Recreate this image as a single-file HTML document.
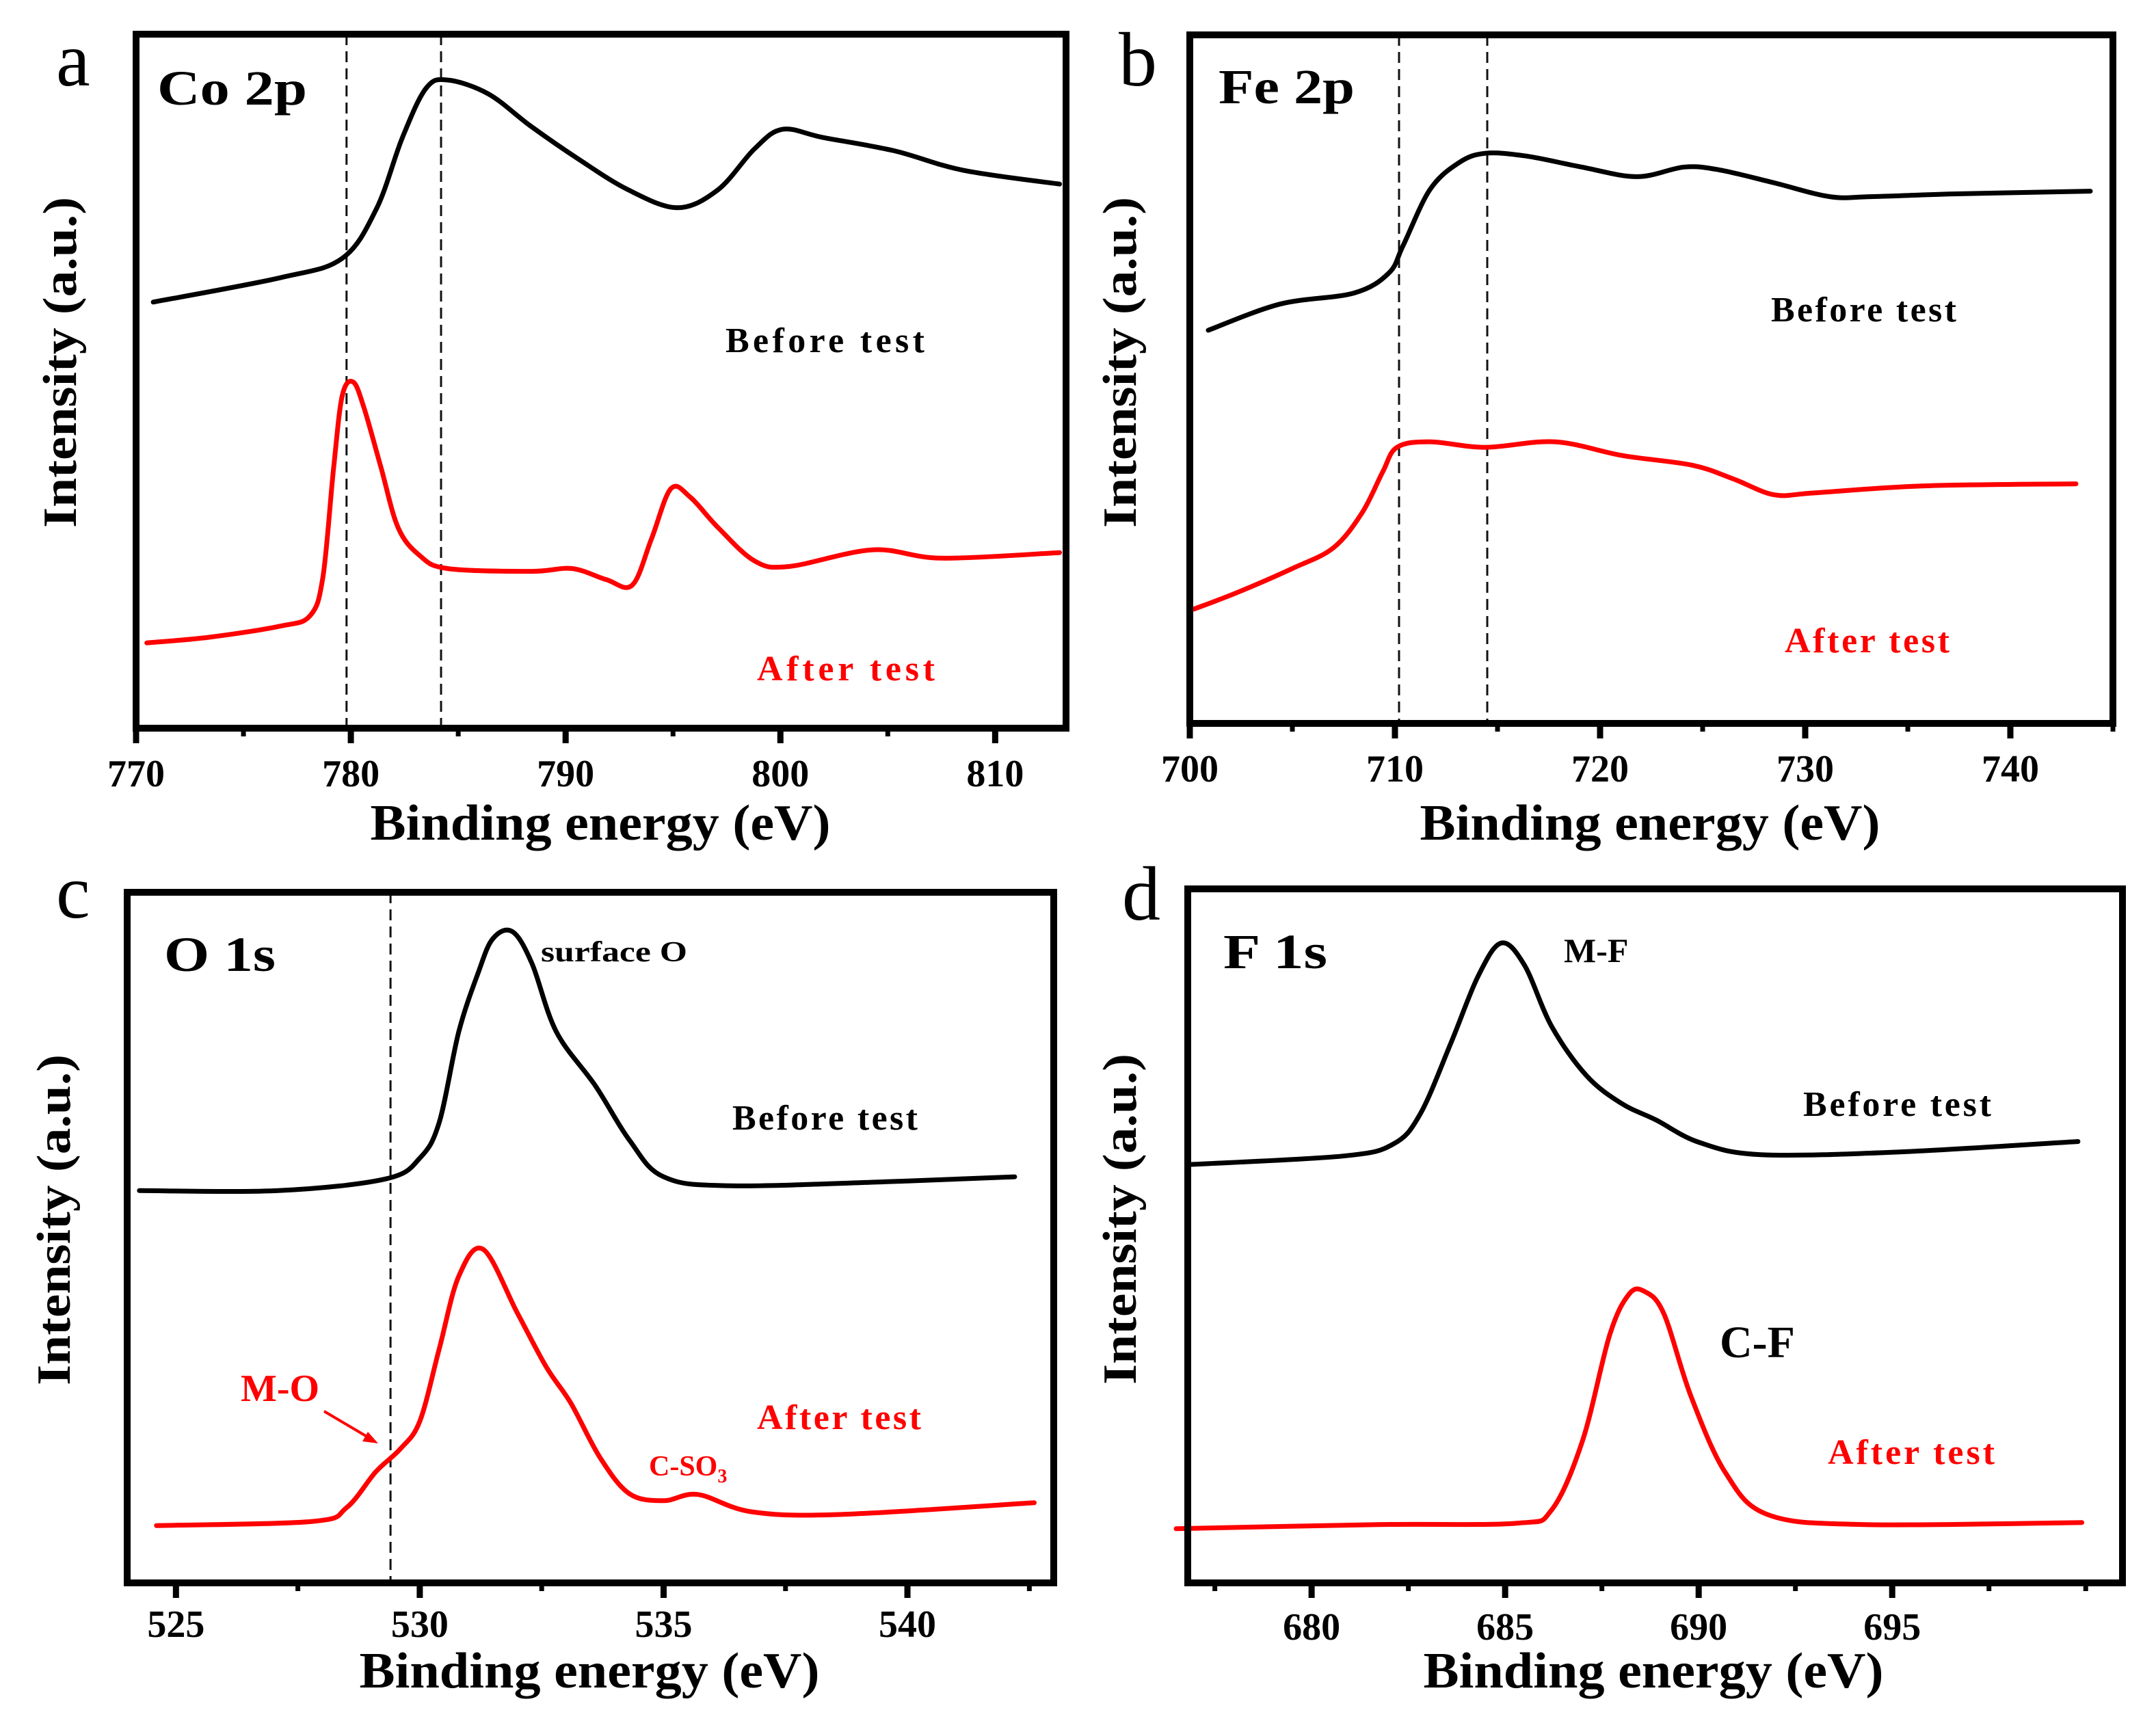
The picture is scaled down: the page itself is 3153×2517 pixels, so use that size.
<!DOCTYPE html>
<html><head><meta charset="utf-8"><title>XPS spectra</title>
<style>
html,body{margin:0;padding:0;background:#fff;}
svg{display:block;font-family:"Liberation Serif",serif;}
</style></head>
<body>
<svg id="fig" xmlns="http://www.w3.org/2000/svg" width="3153" height="2517" viewBox="0 0 3153 2517"></svg>
<script>
// ---- Panel a: Co 2p ----
const aBeforeE = [770.8,776.7,779.6,781.2,782.4,783.5,784.5,786.4,788.4,790.6,792.9,795.2,797.1,798.8,800.1,802.0,805.3,808.5,813.0];
const aBeforeV = [61.4,64.9,67.7,74.9,85.1,92.2,93.4,91.4,86.7,82.0,77.6,75.0,77.6,83.5,86.3,85.1,83.2,80.4,78.4];
const aAfterE = [770.5,773.4,776.7,778.1,778.7,779.2,779.6,780.1,780.6,781.4,782.2,783.2,784.5,788.4,790.3,791.9,793.1,794.0,794.9,795.8,797.1,798.8,800.4,804.3,807.5,813.0];
const aAfterV = [12.3,13.1,14.7,16.2,21.8,37.6,47.9,49.9,46.3,37.6,28.9,24.9,23.0,22.6,23.0,21.4,20.6,27.3,34.5,33.3,28.9,24.1,23.3,25.7,24.5,25.3];
const aMarks = [779.8,784.2];
const aTicks = [770,780,790,800,810];
// ---- Panel b: Fe 2p ----
const bBeforeE = [700.9,704.4,708.0,709.7,710.4,711.7,713.1,714.4,716.4,719.1,721.8,724.1,725.8,728.5,731.2,733.2,737.2,743.9];
const bBeforeV = [57.1,60.9,62.5,65.4,69.4,77.5,81.4,82.8,82.4,80.8,79.4,80.8,80.4,78.5,76.5,76.5,76.9,77.3];
const bAfterE = [700.2,702.3,705.0,707.0,708.4,709.4,710.1,711.7,714.4,717.8,721.1,724.5,726.5,728.5,730.5,735.8,743.2];
const bAfterV = [16.6,19.0,22.5,25.5,30.6,36.5,40.1,40.9,40.1,40.9,38.9,37.5,35.5,33.2,33.5,34.5,34.8];
const bMarks = [710.2,714.5];
const bTicks = [700,710,720,730,740];
// ---- Panel c: O 1s ----
const cBeforeE = [524.25,527.1,529.3,530.0,530.4,530.8,531.2,531.5,531.9,532.3,532.8,533.6,534.3,535.0,536.4,540.0,542.2];
const cBeforeV = [56.8,56.8,58.5,61.5,66.7,79.8,88.4,93.3,94.3,89.7,79.8,72.0,64.1,58.8,57.5,58.2,58.8];
const cAfterE = [524.6,527.8,528.5,529.1,529.6,530.0,530.4,530.8,531.3,532.0,532.6,533.1,533.7,534.3,535.0,535.7,536.8,538.6,542.6];
const cAfterV = [8.3,8.9,10.9,16.1,19.4,23.4,33.9,44.4,48.3,39.1,31.2,26.0,18.1,12.9,11.9,12.8,10.3,9.9,11.6];
const cMarks = [529.4];
const cTicks = [525,530,535,540];
// ---- Panel d: F 1s ----
const dBeforeE = [676.9,680.8,682.1,682.8,683.6,684.3,684.9,685.5,686.2,687.1,688.0,688.9,690.0,691.6,695.2,699.8];
const dBeforeV = [60.3,61.5,63.2,67.5,77.8,87.4,92.2,89.0,80.2,73.1,69.1,66.7,63.5,61.7,62.1,63.6];
const dAfterE = [676.5,681.7,685.3,686.2,687.0,687.7,688.2,688.6,689.1,689.8,690.7,691.8,694.3,699.9];
const dAfterV = [7.8,8.4,8.6,10.5,20.5,35.7,41.6,42.0,38.8,26.9,15.8,9.8,8.4,8.7];
const dMarks = [];
const dTicks = [680,685,690,695];

const NS = "http://www.w3.org/2000/svg";
const svg = document.getElementById('fig');
function mk(tag, attrs, parent, text){
  const el = document.createElementNS(NS, tag);
  for (const k in attrs) el.setAttribute(k, attrs[k]);
  if (text !== undefined) el.textContent = text;
  (parent||svg).appendChild(el);
  return el;
}
function smoothPath(pts){
  let d = "M" + pts[0][0].toFixed(1) + "," + pts[0][1].toFixed(1);
  for (let i=0;i<pts.length-1;i++){
    const p0 = pts[Math.max(0,i-1)], p1 = pts[i], p2 = pts[i+1], p3 = pts[Math.min(pts.length-1,i+2)];
    const c1x = p1[0]+(p2[0]-p0[0])/6, c1y = p1[1]+(p2[1]-p0[1])/6;
    const c2x = p2[0]-(p3[0]-p1[0])/6, c2y = p2[1]-(p3[1]-p1[1])/6;
    d += " C"+c1x.toFixed(1)+","+c1y.toFixed(1)+" "+c2x.toFixed(1)+","+c2y.toFixed(1)+" "+p2[0].toFixed(1)+","+p2[1].toFixed(1);
  }
  return d;
}

const panels = [
 {id:'a', x0:199, x1:1559, y0:50, y1:1065, e0:770, e1:813.3, be:aBeforeE, bv:aBeforeV, ae:aAfterE, av:aAfterV, marks:aMarks, ticks:aTicks, minor:5,
  letter:[82,125], title:['Co 2p',230,153,219], before:[1061,515,291], after:[1107,995,260], yt:[86,530], xt:[878,1228], tickY:1150, tlen:673},
 {id:'b', x0:1740, x1:3090, y0:51, y1:1058, e0:700, e1:745, be:bBeforeE, bv:bBeforeV, ae:bAfterE, av:bAfterV, marks:bMarks, ticks:bTicks, minor:5,
  letter:[1636,125], title:['Fe 2p',1782,151,199], before:[2590,470,271], after:[2610,954,241], yt:[1636,530], xt:[2413,1228], tickY:1143, tlen:673},
 {id:'c', x0:186, x1:1541, y0:1305, y1:2315, e0:524, e1:543, be:cBeforeE, bv:cBeforeV, ae:cAfterE, av:cAfterV, marks:cMarks, ticks:cTicks, minor:2.5,
  letter:[82,1342], title:['O 1s',240,1420,163], before:[1071,1652,271], after:[1107,2090,240], yt:[77,1784], xt:[862,2468], tickY:2394, tlen:673},
 {id:'d', x0:1737, x1:3104, y0:1300, y1:2315, e0:676.8, e1:700.95, be:dBeforeE, bv:dBeforeV, ae:dAfterE, av:dAfterV, marks:dMarks, ticks:dTicks, minor:2.5,
  letter:[1641,1345], title:['F 1s',1789,1416,152], before:[2637,1632,275], after:[2673,2141,244], yt:[1636,1783], xt:[2418,2468], tickY:2398, tlen:673}
];

panels.forEach(p=>{
  const g = mk('g',{});
  
  
  const sx = e => p.x0 + (e-p.e0)/(p.e1-p.e0)*(p.x1-p.x0);
  const sy = v => p.y1 - v/100*(p.y1-p.y0);

  p.marks.forEach((m,i)=>{
    const l = mk('line',{x1:sx(m),x2:sx(m),y1:p.y0,y2:p.y1,stroke:'#111','stroke-width':3,'stroke-dasharray':'16 9'},g);
    
    
  });

  const bp = mk('path',{d:smoothPath(p.be.map((e,i)=>[sx(e),sy(p.bv[i])])),fill:'none',stroke:'#000','stroke-width':7,'stroke-linejoin':'round','stroke-linecap':'round'},g);
  
  
  const ap = mk('path',{d:smoothPath(p.ae.map((e,i)=>[sx(e),sy(p.av[i])])),fill:'none',stroke:'#ff0000','stroke-width':7,'stroke-linejoin':'round','stroke-linecap':'round'},g);
  
  

  const fr = mk('rect',{x:p.x0,y:p.y0,width:p.x1-p.x0,height:p.y1-p.y0,fill:'none',stroke:'#000','stroke-width':10},g);
  
  

  const start = Math.ceil(p.e0/p.minor)*p.minor;
  for (let e=start; e<=p.e1+1e-6; e+=p.minor){
    const major = p.ticks.some(t=>Math.abs(t-e)<1e-6);
    const t = mk('line',{x1:sx(e),x2:sx(e),y1:p.y1,y2:p.y1+(major?22:12),stroke:'#000','stroke-width':major?9:7},g);
    
    
  }
  p.ticks.forEach(tv=>{
    const tl = mk('text',{x:sx(tv),y:p.tickY,'text-anchor':'middle','font-size':56,'font-weight':'bold'},g,String(tv));
    
    
  });

  const xt = mk('text',{x:p.xt[0],y:p.xt[1],'text-anchor':'middle','font-size':74,'font-weight':'bold',textLength:p.tlen,lengthAdjust:'spacingAndGlyphs'},g,'Binding energy (eV)');
  
  
  const yt = mk('text',{x:0,y:0,'text-anchor':'middle','font-size':70,'font-weight':'bold',textLength:484,lengthAdjust:'spacingAndGlyphs',transform:'translate('+(p.yt[0]+25)+','+p.yt[1]+') rotate(-90)'},g,'Intensity (a.u.)');
  
  

  const lt = mk('text',{x:p.letter[0],y:p.letter[1],'font-size':112},g,p.id);
  
  
  const tt = mk('text',{x:p.title[1],y:p.title[2],'font-size':72,'font-weight':'bold',textLength:p.title[3],lengthAdjust:'spacingAndGlyphs'},g,p.title[0]);
  
  
  const bl = mk('text',{x:p.before[0],y:p.before[1],'font-size':52,'font-weight':'bold',textLength:p.before[2],lengthAdjust:'spacing'},g,'Before test');
  
  
  const al = mk('text',{x:p.after[0],y:p.after[1],'font-size':52,'font-weight':'bold',fill:'#ff0000',textLength:p.after[2],lengthAdjust:'spacing'},g,'After test');
  
  
});

const ann = mk('g',{});


const so = mk('text',{x:791,y:1406,'font-size':42,'font-weight':'bold',textLength:214,lengthAdjust:'spacingAndGlyphs'},ann,'surface O');


const mo = mk('text',{x:352,y:2049,'font-size':56,'font-weight':'bold',fill:'#ff0000'},ann,'M-O');


const arr = mk('line',{x1:474,y1:2064,x2:545,y2:2106,stroke:'#ff0000','stroke-width':4},ann);


const head = mk('polygon',{points:'553,2111 530,2108 538,2094',fill:'#ff0000'},ann);


const cs = mk('text',{x:949,y:2158,'font-size':42,'font-weight':'bold',fill:'#ff0000'},ann);


cs.appendChild(document.createTextNode('C-SO'));
const sub = mk('tspan',{'font-size':28,dy:10},cs,'3');


const mf = mk('text',{x:2287,y:1407,'font-size':50,'font-weight':'bold'},ann,'M-F');


const cf = mk('text',{x:2515,y:1985,'font-size':66,'font-weight':'bold'},ann,'C-F');


</script>
</body></html>
